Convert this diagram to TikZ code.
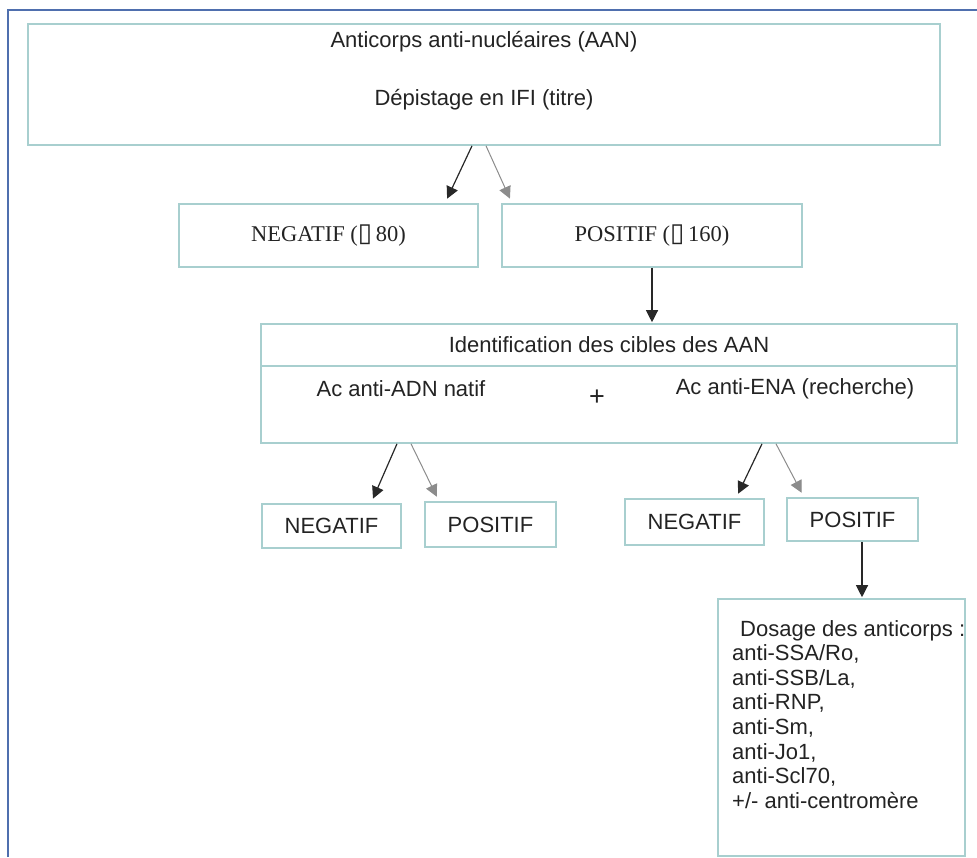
\documentclass[tikz,border=0pt]{standalone}
\usepackage{fontspec}
\setmainfont{Liberation Sans}
\newfontfamily\serifnum{Liberation Serif}
\newfontfamily\boxglyph{DejaVu Sans}
\usetikzlibrary{arrows.meta}
\definecolor{boxcol}{RGB}{168,207,207}
\definecolor{framecol}{RGB}{79,111,174}
\definecolor{darkarr}{RGB}{40,40,40}
\definecolor{lightarr}{RGB}{140,140,140}
\definecolor{txt}{RGB}{35,35,35}
\newcommand{\sqglyph}{{\boxglyph\fontsize{26}{26}\selectfont ▯}}

\begin{document}
\begin{tikzpicture}[x=1pt,y=-1pt,
  box/.style={draw=boxcol,line width=1.6pt,inner sep=0pt},
  lbl/.style={text=txt,font=\fontsize{22}{24}\selectfont,inner sep=0pt},
  darr/.style={draw=darkarr,line width=1.2pt,-{Triangle[width=12pt,length=12pt]},shorten >=5pt},
  larr/.style={draw=lightarr,line width=1pt,-{Triangle[width=12pt,length=12pt]},shorten >=5pt}]
\useasboundingbox (0,0) rectangle (977,857);
\draw[framecol,line width=1.5pt] (8,857)--(8,10)--(977,10);
% depistage
\node[box,minimum width=912pt,minimum height=121pt] (aan) at (484,84.5){};
\node[lbl] (aantitle) at (484,42){Anticorps anti-nucléaires (AAN)};
\node[lbl] (aantest) at (484,100){Dépistage en IFI (titre)};
\node[box,minimum width=299pt,minimum height=63pt,text=txt,font=\serifnum\fontsize{22.5}{24}\selectfont] (neg) at (328.5,235.5){NEGATIF (\sqglyph\,80)};
\node[box,minimum width=300pt,minimum height=63pt,text=txt,font=\serifnum\fontsize{22.5}{24}\selectfont] (pos) at (652,235.5){POSITIF (\sqglyph\,160)};
\draw[darr] (aan.south -| 472,0) -- (neg.north -| 445,0);
\draw[larr] (aan.south -| 486,0) -- (pos.north -| 512,0);
% identification
\node[box,lbl,minimum width=696pt,minimum height=42pt] (idhead) at (609,345){Identification des cibles des AAN};
\node[box,minimum width=696pt,minimum height=77pt] (idbody) at (609,404.5){};
\node[lbl] (adn) at (401,389){Ac anti-ADN natif};
\node[lbl,font=\fontsize{27}{27}\selectfont] (plus) at (597,398){+};
\node[lbl] (ena) at (795,389){Ac anti-ENA (recherche)};
\draw[darr,shorten >=1pt] (pos.south) -- (pos.south |- idhead.north);
% resultats
\node[box,lbl,minimum width=139pt,minimum height=44pt] (adnneg) at (331.5,526){NEGATIF};
\node[box,lbl,minimum width=131pt,minimum height=45pt] (adnpos) at (490.5,524.5){POSITIF};
\node[box,lbl,minimum width=139pt,minimum height=46pt] (enaneg) at (694.5,522){NEGATIF};
\node[box,lbl,minimum width=131pt,minimum height=43pt] (enapos) at (852.5,519.5){POSITIF};
\draw[darr] (idbody.south -| 397,0) -- (adnneg.north -| 371,0);
\draw[larr] (idbody.south -| 411,0) -- (adnpos.north -| 439,0);
\draw[darr] (idbody.south -| 762,0) -- (enaneg.north -| 736,0);
\draw[larr] (idbody.south -| 776,0) -- (enapos.north -| 804,0);
% dosage
\node[box,minimum width=247pt,minimum height=257pt] (dosage) at (841.5,727.5){};
\node[lbl,anchor=north west,align=left,font=\fontsize{22}{24.6}\selectfont] (dosagetxt) at (732,620){\hspace{8pt}Dosage des anticorps :\\anti-SSA/Ro,\\anti-SSB/La,\\anti-RNP,\\anti-Sm,\\anti-Jo1,\\anti-Scl70,\\+/- anti-centromère};
\draw[darr,shorten >=1pt] (enapos.south -| 862,0) -- (dosage.north -| 862,0);
\end{tikzpicture}
\end{document}
